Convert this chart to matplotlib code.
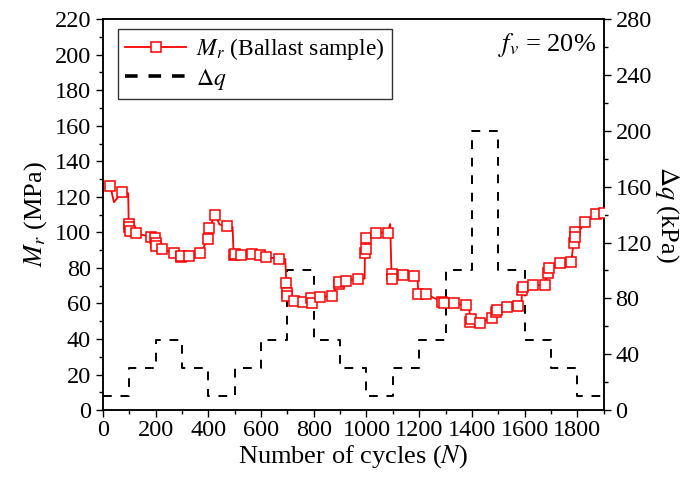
import numpy as np
import matplotlib
matplotlib.use("Agg")
import matplotlib.pyplot as plt
from matplotlib.ticker import MultipleLocator

plt.rcParams["font.family"] = ["Liberation Serif", "DejaVu Serif"]
plt.rcParams["mathtext.fontset"] = "stix"

# resilient modulus readings (cycles, MPa); marked = drawn with a square
cycles = [28, 42, 72, 96, 98, 99, 101, 126, 183, 197, 201, 203, 225, 269, 296, 298,
          326, 370, 398, 403, 426, 442, 469, 492, 496, 500, 524, 566, 595, 620, 667,
          692, 696, 698, 700, 724, 759, 791, 795, 822, 868, 894, 897, 921, 966, 993,
          994, 997, 999, 1037, 1081, 1090, 1095, 1097, 1138, 1180, 1193, 1197, 1226,
          1285, 1293, 1333, 1378, 1390, 1393, 1396, 1432, 1477, 1492, 1495, 1534,
          1576, 1588, 1590, 1593, 1632, 1676, 1687, 1694, 1733, 1777, 1786, 1791,
          1792, 1830, 1871, 1900]
mr = [126, 117, 122.5, 122, 104.5, 103, 101, 99.4, 97.5, 96.6, 93.8, 92.3, 90.8, 88.2,
      86, 86.7, 86.7, 88.2, 96.2, 102.2, 110, 104.5, 103.5, 103, 87.2, 88, 87.2, 87.6,
      87.2, 86.3, 85, 85, 71.3, 65.7, 64, 61.5, 61, 63.2, 60, 63.4, 64.3, 70.9, 72,
      72.8, 73.7, 74, 88.2, 90.6, 96.6, 99.8, 99.8, 104.7, 76.5, 74, 75.8, 75.4, 75,
      65.3, 65.3, 61, 60.5, 60, 59, 58, 49.7, 51, 49.3, 51.9, 55.3, 56.6, 57.8, 58.5,
      58.5, 67.5, 69, 70.2, 70.3, 76.9, 79.7, 82.5, 83.5, 94.2, 100.4, 97.5, 105.8,
      110.3, 111]
unmarked = [42, 96, 442, 492, 692, 993, 1090, 1193, 1390, 1588]

# deviator stress stages (kPa), each 100 cycles long
stage_edges = [0, 100, 200, 300, 400, 500, 600, 700, 800, 900, 1000, 1100, 1200,
               1300, 1400, 1500, 1600, 1700, 1800, 1900]
dq = [10, 30, 50, 30, 10, 30, 50, 100, 50, 30, 10, 30, 50, 100, 200, 100, 50, 30, 10]

fig = plt.figure(figsize=(6.86, 4.9), dpi=100)
ax = fig.add_axes([0.150, 0.163, 0.730, 0.798])
ax2 = ax.twinx()

marks = [i for i, n in enumerate(cycles) if n not in unmarked]
l1, = ax.plot(cycles, mr, color="red", lw=1.3, marker="s", markersize=7.6,
              markerfacecolor="white", markeredgecolor="red", markeredgewidth=1.1,
              markevery=marks, label=r"$M_r$ (Ballast sample)", zorder=3)
ax.set_zorder(ax2.get_zorder() + 1)
ax.patch.set_visible(False)

l2, = ax2.step(stage_edges, dq + [dq[-1]], where="post", color="black", lw=1.4,
               ls=(0, (4.5, 4.5)), label=r"$\Delta q$")

ax.set_xlim(0, 1900)
ax.set_ylim(0, 220)
ax2.set_ylim(0, 280)
ax.xaxis.set_major_locator(MultipleLocator(200))
ax.xaxis.set_minor_locator(MultipleLocator(100))
ax.yaxis.set_major_locator(MultipleLocator(20))
ax.yaxis.set_minor_locator(MultipleLocator(10))
ax2.yaxis.set_major_locator(MultipleLocator(40))
ax2.yaxis.set_minor_locator(MultipleLocator(20))

for a in (ax, ax2):
    a.tick_params(which="major", direction="out", length=5, width=1, labelsize=17.5)
    a.tick_params(which="minor", direction="out", length=3, width=1)
    for s in a.spines.values():
        s.set_linewidth(1.1)
ax.tick_params(axis="x", pad=2)

ax.set_xlabel(r"Number of cycles ($N$)", fontsize=19, labelpad=2)
ax.set_ylabel(r"$M_r$ (MPa)", fontsize=19, labelpad=4)
ax2.set_ylabel(r"$\Delta q$ (kPa)", fontsize=19, rotation=270, va="center",
               ha="center")
ax2.yaxis.set_label_coords(1.126, 0.5)

ax.text(0.985, 0.935, r"$f_v$ = 20%", transform=ax.transAxes, ha="right",
        va="center", fontsize=19)

leg = ax.legend(handles=[l1, l2], loc="upper left", bbox_to_anchor=(0.03, 0.975),
                fontsize=17, frameon=True, fancybox=False, edgecolor="black",
                handlelength=2.6, borderpad=0.3, labelspacing=0.2, handletextpad=0.4,
                borderaxespad=0)
leg.get_frame().set_linewidth(1.0)
dash_handle = leg.get_lines()[1]
dash_handle.set_linewidth(2.6)
dash_handle.set_linestyle((0, (3.5, 3)))

fig.savefig("out.png", dpi=100)
